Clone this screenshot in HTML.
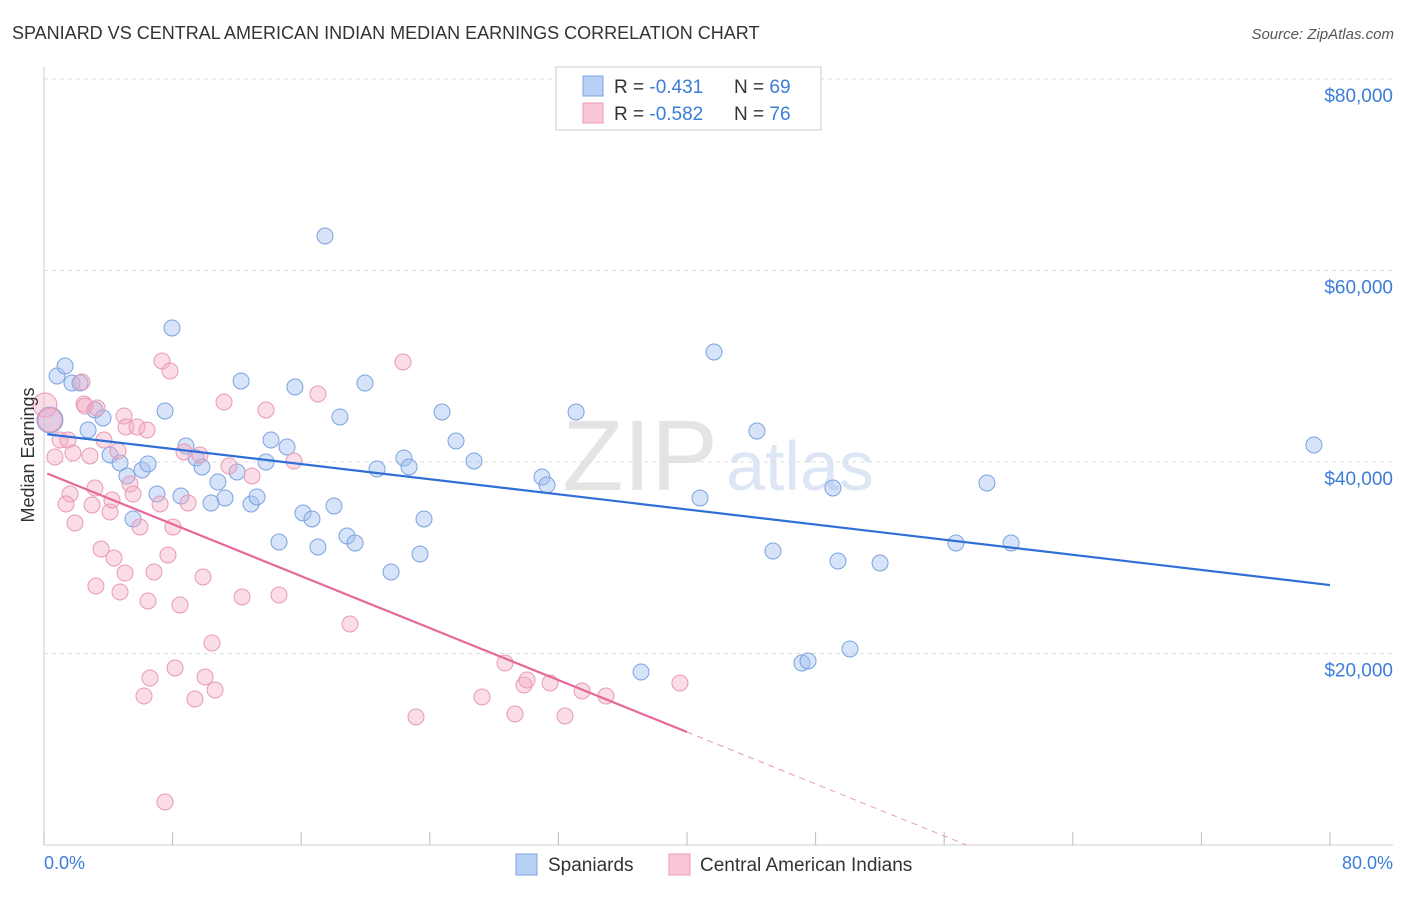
<!DOCTYPE html>
<html><head><meta charset="utf-8"><style>
body{margin:0;background:#fff;font-family:"Liberation Sans",sans-serif;}
svg text{font-family:"Liberation Sans",sans-serif;}
</style></head><body>
<svg id="chart" width="1406" height="892" xmlns="http://www.w3.org/2000/svg">
<text x="12" y="39" font-size="18" fill="#333">SPANIARD VS CENTRAL AMERICAN INDIAN MEDIAN EARNINGS CORRELATION CHART</text>
<text x="1394" y="39" font-size="15" fill="#555" text-anchor="end" font-style="italic">Source: ZipAtlas.com</text>
<text x="640" y="490" font-size="100" fill="#e4e4e4" font-family="Liberation Serif" text-anchor="middle">ZIP</text>
<text x="800" y="490" font-size="70" fill="#dce6f5" text-anchor="middle">atlas</text>
<g id="grid"></g><g id="pts"></g><g id="lines"></g>
<text transform="translate(34,455) rotate(-90)" font-size="18" fill="#333" text-anchor="middle">Median Earnings</text>
<text x="44" y="869" font-size="18" fill="#3b7dd8">0.0%</text>
<text x="1393" y="869" font-size="18" fill="#3b7dd8" text-anchor="end">80.0%</text>
<g>
<rect x="556" y="67" width="265" height="63" fill="#fff" stroke="#ccc"/>
<rect x="583" y="76" width="20" height="20" fill="#b7d0f4" stroke="#7ba3e0"/>
<rect x="583" y="103" width="20" height="20" fill="#f9c6d6" stroke="#e89ab5"/>
<text x="614" y="93" font-size="19" fill="#333">R = <tspan fill="#3b7dd8">-0.431</tspan><tspan x="734">N = </tspan><tspan fill="#3b7dd8">69</tspan></text>
<text x="614" y="120" font-size="19" fill="#333">R = <tspan fill="#3b7dd8">-0.582</tspan><tspan x="734">N = </tspan><tspan fill="#3b7dd8">76</tspan></text>
</g>
<g>
<rect x="516" y="854" width="21" height="21" fill="#b7d0f4" stroke="#7ba3e0"/>
<text x="548" y="871" font-size="19" fill="#333">Spaniards</text>
<rect x="669" y="854" width="21" height="21" fill="#f9c6d6" stroke="#e89ab5"/>
<text x="700" y="871" font-size="19" fill="#333">Central American Indians</text>
</g>
</svg>
<script>
const yTicks=[20000,40000,60000,80000];
const yTickLabels=["$20,000","$40,000","$60,000","$80,000"];
const xTicks=[0,8,16,24,32,40,48,56,64,72,80];
const blueX=[0.81,1.31,1.74,2.24,0.37,3.17,3.67,2.74,4.11,4.73,5.16,5.54,6.10,6.47,7.03,7.53,7.96,8.52,8.83,9.46,9.83,10.39,10.82,11.26,12.01,12.26,12.88,13.25,13.81,14.12,14.62,15.12,15.61,16.11,16.67,17.04,17.48,18.04,18.41,18.85,19.35,19.97,20.72,21.59,22.39,22.71,23.39,23.64,24.76,25.63,26.75,30.98,31.29,33.10,37.14,40.81,41.68,44.35,45.35,47.15,47.53,49.08,49.39,50.14,52.01,56.73,58.66,60.16,79.0];
const blueY=[48983,50027,48252,48252,44388,45431,44597,43343,40732,39897,38539,34048,39166,39792,36659,45327,53996,36450,41672,40419,39479,35719,37913,36241,38956,48461,35615,36346,40001,42298,31645,41567,47833,34674,34048,31123,63604,35406,44701,32272,31541,48252,39270,28512,40419,39479,30392,34048,45222,42194,40105,38434,37598,45222,18068,36241,51489,43238,30706,19008,19217,37285,29661,20470,29452,31541,37807,31541,41776];
const pinkX=[0.06,0.37,0.68,1.0,1.49,1.80,1.93,1.62,2.36,2.49,1.37,2.55,2.86,2.99,3.17,3.30,3.55,3.23,3.73,4.11,4.23,4.35,4.60,4.73,4.98,5.10,5.04,5.35,5.54,5.79,5.97,6.41,6.47,6.59,6.22,6.84,7.22,7.34,7.71,7.84,8.02,8.15,8.46,8.71,8.96,9.39,9.70,9.89,10.02,10.45,10.64,11.20,11.51,12.32,12.94,13.81,14.62,15.55,17.04,19.04,7.53,22.33,23.14,27.25,28.68,29.30,29.86,30.05,31.48,32.41,33.47,34.96,39.56];
const pinkY=[45954,44388,40523,42298,42298,40941,33630,36659,48356,46058,35614,45849,40628,35510,37285,45640,30914,27050,42298,34778,36032,29974,41149,26423,44806,43656,28407,37703,36659,43656,33212,43343,25484,17441,15561,28512,35614,50549,30288,49505,33212,18486,25066,41045,35719,15248,40732,27990,17546,21097,16188,46267,39583,25901,38539,45431,26110,40105,47102,23081,4491,50444,13368,15457,19008,13681,16710,17232,16919,13473,16083,15561,16919];
const blueLine=[0.2,42900,80,27150];
const pinkLine=[0.2,38800,40,11800];
const NS="http://www.w3.org/2000/svg";
const X=v=>44+v/80*1286, Y=v=>845-v/20000*191.5;
function mk(t,a,p){const e=document.createElementNS(NS,t);for(const k in a)e.setAttribute(k,a[k]);p.appendChild(e);return e;}
const g=document.getElementById('grid');
yTicks.forEach((t,i)=>{
 const l=mk('line',{x1:44,x2:1393,y1:Y(t),y2:Y(t),stroke:'#ddd','stroke-dasharray':'4,4'},g);
 
 
 const tx=mk('text',{x:1393,y:Y(t)+23,'font-size':19,fill:'#3b7dd8','text-anchor':'end'},g);
 tx.textContent=yTickLabels[i];
 
 
});
mk('line',{x1:44,x2:1393,y1:79,y2:79,stroke:'#ddd','stroke-dasharray':'4,4'},g);
mk('line',{x1:44,x2:44,y1:67,y2:845,stroke:'#ccc'},g);
mk('line',{x1:44,x2:1393,y1:845,y2:845,stroke:'#ccc'},g);
xTicks.forEach(t=>{
 const l=mk('line',{x1:X(t),x2:X(t),y1:832,y2:845,stroke:'#bbb'},g);
 
 
});
const P=document.getElementById('pts');
blueX.forEach((v,i)=>{
 const c=mk('circle',{cx:X(v),cy:Y(blueY[i]),r:i==4?13:8,fill:'rgba(164,194,240,0.45)',stroke:'#7ba3e0','stroke-width':1},P);
 
 
});
pinkX.forEach((v,i)=>{
 const c=mk('circle',{cx:X(v),cy:Y(pinkY[i]),r:i<2?12:8,fill:'rgba(244,170,195,0.4)',stroke:'#e89ab5','stroke-width':1},P);
 
 
});
const L=document.getElementById('lines');
const bl=mk('line',{x1:X(blueLine[0]),y1:Y(blueLine[1]),x2:X(blueLine[2]),y2:Y(blueLine[3]),stroke:'#2f6fd6','stroke-width':2.2},L);


const pl=mk('line',{x1:X(pinkLine[0]),y1:Y(pinkLine[1]),x2:X(pinkLine[2]),y2:Y(pinkLine[3]),stroke:'#e5689a','stroke-width':2.2},L);


const slope=(pinkLine[3]-pinkLine[1])/(pinkLine[2]-pinkLine[0]);
const x0=pinkLine[2]-pinkLine[3]/slope;
const pd=mk('line',{x1:X(pinkLine[2]),y1:Y(pinkLine[3]),x2:X(x0),y2:Y(0),stroke:'#e89ab5','stroke-width':1,'stroke-dasharray':'6,5'},L);


</script>
</body></html>
